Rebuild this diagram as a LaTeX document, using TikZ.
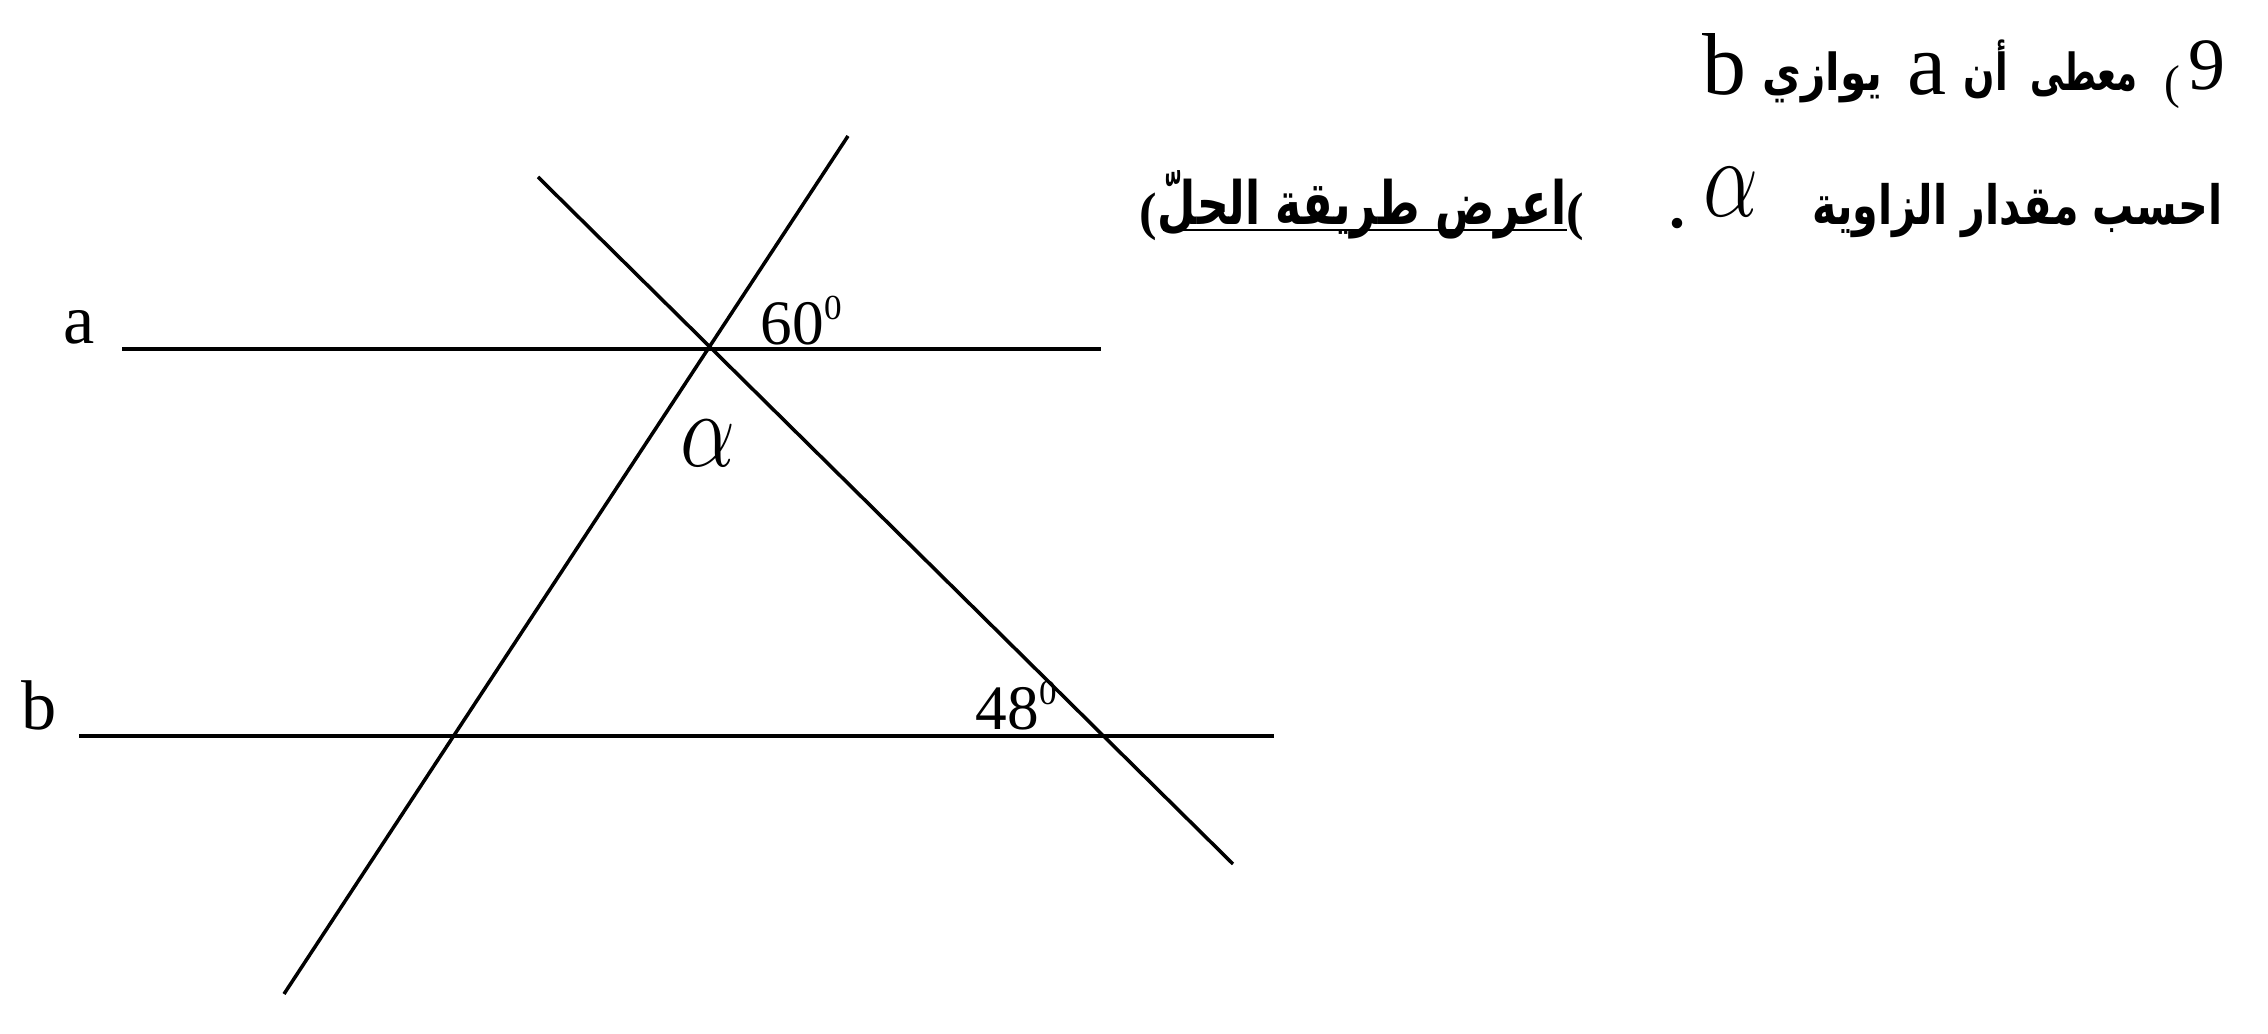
\documentclass[tikz,border=0pt]{standalone}
\usepackage{fontspec}
\usepackage{graphicx}
\setmainfont{Liberation Serif}
\newfontfamily\arabicfont[Script=Arabic]{DejaVu Sans}
\TeXXeTstate=1
\newcommand\degsup{\raisebox{7.3pt}{\fontsize{10}{12}\selectfont 0}}
\tikzset{
  geoline/.style={line width=1pt, line cap=butt},
  lbl/.style={inner sep=0pt, font=\fontsize{20}{24}\selectfont},
  ang/.style={inner sep=0pt, font=\fontsize{18}{22}\selectfont},
  arone/.style={inner sep=0pt, font=\arabicfont\bfseries\fontsize{14.5}{17}\selectfont},
  artwo/.style={inner sep=0pt, font=\arabicfont\bfseries\fontsize{15.4}{18}\selectfont},
  arb/.style={inner sep=0pt, font=\arabicfont\bfseries\fontsize{17}{20}\selectfont},
  parb/.style={inner sep=0pt, font=\bfseries\fontsize{15}{18}\selectfont},
  lat/.style={inner sep=0pt, font=\fontsize{25}{30}\selectfont},
}
\begin{document}
\begin{tikzpicture}[x=0.01cm, y=-0.01cm]
\useasboundingbox (0,0) rectangle (2268,1034);
% geometry
\coordinate (aL) at (122,349);
\coordinate (aR) at (1101,349);
\coordinate (bL) at (79,736);
\coordinate (bR) at (1274,736);
\coordinate (p1top) at (848,136);
\coordinate (p1bot) at (284,994);
\coordinate (p2top) at (538,177);
\coordinate (p2bot) at (1233,864);
\draw[geoline] (aL) -- (aR);
\draw[geoline] (bL) -- (bR);
\draw[geoline] (p1top) -- (p1bot);
\draw[geoline] (p2top) -- (p2bot);
% diagram labels
\node[lbl, anchor=base west] (la) at (63,344) {a};
\node[lbl, anchor=base west] (lb) at (21,730) {b};
\node[ang, anchor=base west] (l60) at (760,345) {60\degsup};
\node[ang, anchor=base west] (l48) at (975,730) {48\degsup};
\node[inner sep=0pt, anchor=base west] (lalpha) at (680,467)
  {\scalebox{1}[1.23]{\fontsize{24}{28}\selectfont$\alpha$}};
% line 1 of the question
\node[lat, anchor=base west] (q1b) at (1702,95) {b};
\node[arone, anchor=base west] (q1w1) at (1762,91) {\resizebox{1.20cm}{\height}{\beginR يوازي\endR}};
\node[lat, anchor=base west] (q1a) at (1907,95) {a};
\node[arone, anchor=base west] (q1w2) at (1963,91) {\resizebox{0.44cm}{\height}{\beginR أن\endR}};
\node[arone, anchor=base west] (q1w3) at (2030,91) {\resizebox{1.07cm}{\height}{\beginR معطى\endR}};
\node[inner sep=0pt, anchor=base west, font=\fontsize{13.5}{16}\selectfont] (q1p) at (2164,99) {(};
\node[inner sep=0pt, anchor=base west, font=\fontsize{21}{25}\selectfont] (q1n) at (2188,90) {9};
% line 2 of the question
\node[artwo, anchor=base east] (q2w) at (2223,225) {\resizebox{4.10cm}{\height}{\beginR احسب مقدار الزاوية\endR}};
\node[inner sep=0pt, anchor=base west] (q2alpha) at (1703,217)
  {\scalebox{1}[1.3]{\fontsize{29}{34}\selectfont$\alpha$}};
\node[lat, anchor=base] (q2dot) at (1677,228) {.};
\node[arb, anchor=base west] (q2p) at (1157,225) {\resizebox{4.09cm}{\height}{\beginR اعرض طريقة الحلّ\endR}};
\node[parb, anchor=base east] (q2pl) at (1158,230) {(};
\node[parb, anchor=base west] (q2pr) at (1566,230) {(};
\draw[line width=0.8pt] ([xshift=0.06cm, yshift=-0.05cm]q2p.base west) -- ([xshift=-0.01cm, yshift=-0.05cm]q2p.base east);
\end{tikzpicture}
\end{document}
